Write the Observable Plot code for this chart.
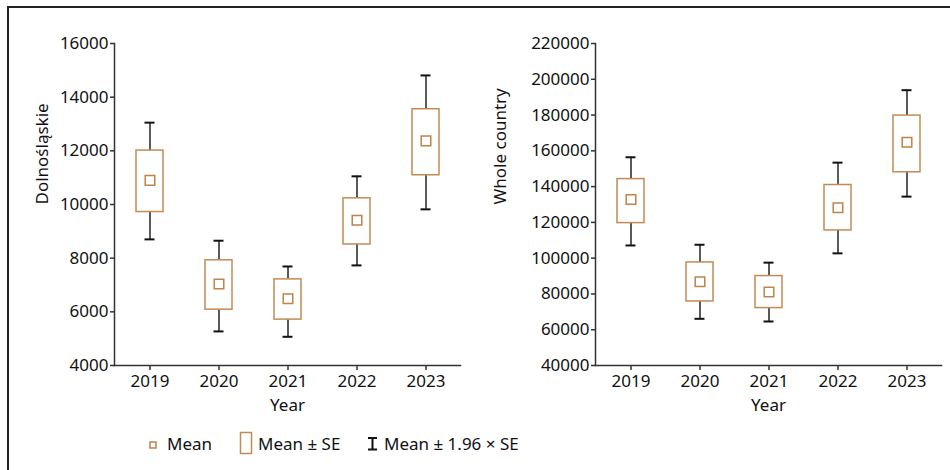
<!DOCTYPE html>
<html>
<head>
<meta charset="utf-8">
<script src="https://cdn.jsdelivr.net/npm/d3@7"></script>
<script src="https://cdn.jsdelivr.net/npm/@observablehq/plot@0.6"></script>
<style>
  html, body { margin: 0; padding: 0; background: #fff; }
  body { width: 950px; height: 470px; position: relative; overflow: hidden; font-family: "Noto Sans", sans-serif; color: #111; }
  #frame { position: absolute; left: 7px; top: 6px; width: 960px; height: 480px; border-top: 2px solid #222; border-left: 2px solid #222; }
  #left, #right { position: absolute; top: 0; }
  #left { left: 0; }
  #right { left: 475px; }
  .leg { position: absolute; top: 431px; font-size: 17px; line-height: 26px; height: 26px; white-space: nowrap; }
  .leg svg { position: absolute; }
</style>
</head>
<body>
<div id="frame"></div>
<div id="left"></div>
<div id="right"></div>
<div class="leg" style="left:145px;"><svg width="14" height="26" style="left:0;top:0"><rect x="5" y="11" width="6" height="6" fill="white" stroke="#bf8448" stroke-width="1.5"/></svg><span style="position:absolute;left:22px;top:0">Mean</span></div>
<div class="leg" style="left:238px;"><svg width="16" height="26" style="left:0;top:0"><rect x="2.5" y="1.5" width="11" height="21" fill="white" stroke="#c28b55" stroke-width="1.5"/></svg><span style="position:absolute;left:20px;top:0">Mean ± SE</span></div>
<div class="leg" style="left:365px;"><svg width="14" height="26" style="left:0;top:0"><path d="M3,7H12M7.5,7V18.5M3,18.5H12" stroke="#111" stroke-width="2" fill="none"/></svg><span style="position:absolute;left:19px;top:0">Mean ± 1.96 × SE</span></div>
<script>
const years = ["2019", "2020", "2021", "2022", "2023"];

// Dolnośląskie
const dolMean = [10900, 7040, 6490, 9410, 12370];
const dolSeLo = [9720, 6080, 5710, 8510, 11090];
const dolSeHi = [12010, 7920, 7210, 10230, 13550];
const dolCiLo = [8700, 5270, 5070, 7730, 9820];
const dolCiHi = [13050, 8650, 7690, 11050, 14810];
const dolTicks = [4000, 6000, 8000, 10000, 12000, 14000, 16000];

// Whole country
const wcMean = [132800, 86800, 81100, 128200, 164800];
const wcSeLo = [119600, 75800, 72100, 115500, 148000];
const wcSeHi = [144200, 97600, 90000, 140900, 179700];
const wcCiLo = [107100, 66100, 64600, 102700, 134400];
const wcCiHi = [156400, 107500, 97500, 153400, 193900];
const wcTicks = [40000, 60000, 80000, 100000, 120000, 140000, 160000, 180000, 200000, 220000];

const BOX = "#c28b55";
const MEAN = "#bf8448";
const AXIS = "#333";

function panel({mean, seLo, seHi, ciLo, ciHi, ticks, label, marginLeft, marginRight, labelDx}) {
  const data = years.map((year, i) => ({year, mean: mean[i], seLo: seLo[i], seHi: seHi[i], ciLo: ciLo[i], ciHi: ciHi[i]}));
  return Plot.plot({
    width: 475,
    height: 420,
    marginTop: 43,
    marginBottom: 55,
    marginLeft,
    marginRight,
    style: {fontFamily: "Noto Sans", fontSize: "17px", color: "#111", background: "transparent", overflow: "visible"},
    x: {type: "band", domain: years, paddingInner: 0.61, paddingOuter: 0.305, label: null},
    y: {domain: [ticks[0], ticks[ticks.length - 1]], label: null},
    marks: [
      Plot.axisY({ticks, tickSize: 4, tickPadding: 2, tickFormat: "d", label: null, stroke: AXIS, strokeWidth: 1.5, fontSize: 17}),
      Plot.axisX({tickSize: 5, tickPadding: 4, label: null, stroke: AXIS, strokeWidth: 1.5, fontSize: 17}),
      Plot.frame({anchor: "left", stroke: AXIS, strokeWidth: 1.5}),
      Plot.frame({anchor: "bottom", stroke: AXIS, strokeWidth: 1.5}),
      Plot.ruleX(data, {x: "year", y1: "ciLo", y2: "ciHi", stroke: "#222", strokeWidth: 1.5}),
      Plot.tickY(data, {x: "year", y: "ciLo", insetLeft: 8.5, insetRight: 8.5, stroke: "#111", strokeWidth: 2}),
      Plot.tickY(data, {x: "year", y: "ciHi", insetLeft: 8.5, insetRight: 8.5, stroke: "#111", strokeWidth: 2}),
      Plot.barY(data, {x: "year", y1: "seLo", y2: "seHi", fill: "white", stroke: BOX, strokeWidth: 1.5}),
      Plot.dot(data, {x: "year", y: "mean", symbol: "square", r: 5.4, fill: "white", stroke: MEAN, strokeWidth: 1.5}),
      Plot.text([label], {frameAnchor: "left", rotate: -90, dx: labelDx, fontSize: 17, fill: "#111"}),
      Plot.text(["Year"], {frameAnchor: "bottom", dy: 45, fontSize: 17, fill: "#111"})
    ]
  });
}

document.getElementById("left").append(panel({
  mean: dolMean, seLo: dolSeLo, seHi: dolSeHi, ciLo: dolCiLo, ciHi: dolCiHi,
  ticks: dolTicks, label: "Dolnośląskie", marginLeft: 114, marginRight: 15, labelDx: -72
}));
document.getElementById("right").append(panel({
  mean: wcMean, seLo: wcSeLo, seHi: wcSeHi, ciLo: wcCiLo, ciHi: wcCiHi,
  ticks: wcTicks, label: "Whole country", marginLeft: 120, marginRight: 9, labelDx: -95
}));
</script>
</body>
</html>
